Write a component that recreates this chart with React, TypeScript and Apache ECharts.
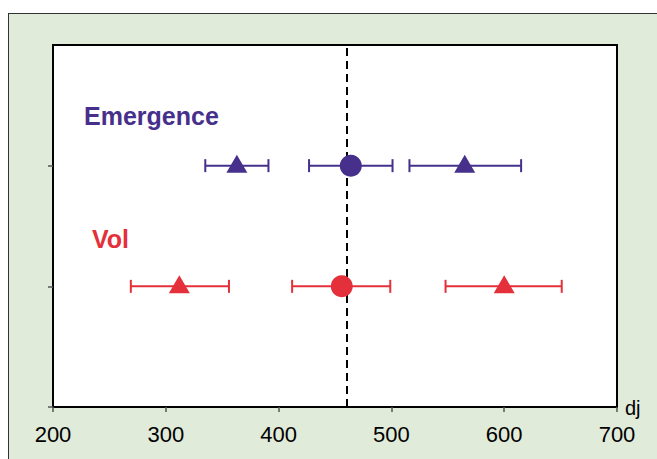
import React, { useEffect, useRef } from "react";
import * as echarts from "echarts";

// Tick labels / axis
const xMin = 200;
const xMax = 700;
const xStep = 100;
const refLine = 460;

// Groups (y positions on a 0..3 value axis)
const groupNames = ["Emergence", "Vol"];
const groupY = [2, 1];
const groupColors = ["#46308c", "#e3303a"];
const markerShapes = ["triangle", "circle", "triangle"];

// Emergence
const emergenceMid = [363, 464, 565];
const emergenceLow = [335, 427, 516];
const emergenceHigh = [391, 501, 615];

// Vol
const volMid = [312, 456, 600];
const volLow = [269, 412, 548];
const volHigh = [356, 499, 651];

const mids = [emergenceMid, volMid];
const lows = [emergenceLow, volLow];
const highs = [emergenceHigh, volHigh];

export default function App() {
  const ref = useRef<HTMLDivElement>(null);

  useEffect(() => {
    if (!ref.current) return;
    const chart = echarts.init(ref.current, null, { renderer: "svg" });
    const font = "'Liberation Sans', Arial, Helvetica, sans-serif";

    const series: any[] = [];
    groupNames.forEach((name, gi) => {
      const color = groupColors[gi];
      const y = groupY[gi];
      series.push({
        type: "custom",
        name: name + " err",
        z: 3,
        encode: { x: [0, 1], y: 2 },
        data: lows[gi].map((lo, i) => [lo, highs[gi][i], y]),
        renderItem: (params: any, api: any) => {
          const a = api.coord([api.value(0), api.value(2)]);
          const b = api.coord([api.value(1), api.value(2)]);
          const h = 6.5;
          const style = { stroke: color, lineWidth: 2 };
          return {
            type: "group",
            children: [
              { type: "line", shape: { x1: a[0], y1: a[1], x2: b[0], y2: b[1] }, style },
              { type: "line", shape: { x1: a[0], y1: a[1] - h, x2: a[0], y2: a[1] + h }, style },
              { type: "line", shape: { x1: b[0], y1: b[1] - h, x2: b[0], y2: b[1] + h }, style },
            ],
          };
        },
      });
      series.push({
        type: "scatter",
        name,
        z: 6,
        itemStyle: { color, opacity: 1 },
        data: mids[gi].map((m, i) => ({
          value: [m, y],
          symbol: markerShapes[i],
          symbolSize: markerShapes[i] === "circle" ? 22 : [21, 18],
          symbolOffset: markerShapes[i] === "circle" ? [0, 0] : [0, -2],
        })),
      });
    });

    series.push({
      type: "line",
      data: [],
      silent: true,
      z: 4,
      markLine: {
        silent: true,
        symbol: "none",
        z: 4,
        label: { show: false },
        lineStyle: { color: "#000", width: 2, type: [8, 5] },
        data: [{ xAxis: refLine }],
      },
    });

    chart.setOption({
      animation: false,
      backgroundColor: "transparent",
      grid: {
        left: 53,
        top: 45,
        right: 40,
        bottom: 52,
        show: true,
        backgroundColor: "#ffffff",
        borderColor: "#000",
        borderWidth: 2,
      },
      xAxis: {
        type: "value",
        min: xMin,
        max: xMax,
        interval: xStep,
        splitLine: { show: false },
        axisLine: { show: true, lineStyle: { color: "#000", width: 2 } },
        axisTick: { show: true, length: 5, lineStyle: { color: "#555", width: 1.5 } },
        axisLabel: { color: "#000", fontSize: 22, fontFamily: font, margin: 16 },
      },
      yAxis: {
        type: "value",
        min: 0,
        max: 3,
        interval: 1,
        splitLine: { show: false },
        axisLine: { show: true, lineStyle: { color: "#000", width: 2 } },
        axisTick: {
          show: true,
          length: 5,
          customValues: [0, 1, 2],
          lineStyle: { color: "#555", width: 1.5 },
        },
        axisLabel: { show: false },
      },
      graphic: [
        {
          type: "text",
          left: 84,
          top: 103,
          style: {
            text: groupNames[0],
            fill: groupColors[0],
            font: `bold 25px ${font}`,
          },
        },
        {
          type: "text",
          left: 92,
          top: 226,
          style: {
            text: groupNames[1],
            fill: groupColors[1],
            font: `bold 25px ${font}`,
          },
        },
        {
          type: "text",
          left: 625,
          top: 398,
          style: { text: "dj", fill: "#000", font: `20px ${font}` },
        },
      ],
      series,
    });

    return () => chart.dispose();
  }, []);

  return (
    <>
      <div
        style={{
          position: "fixed",
          left: 8,
          top: 13,
          width: 700,
          height: 500,
          background: "#e1ebd9",
          border: "1px solid #333",
        }}
      />
      <div
        ref={ref}
        style={{ position: "fixed", left: 0, top: 0, width: 657, height: 459 }}
      />
    </>
  );
}
